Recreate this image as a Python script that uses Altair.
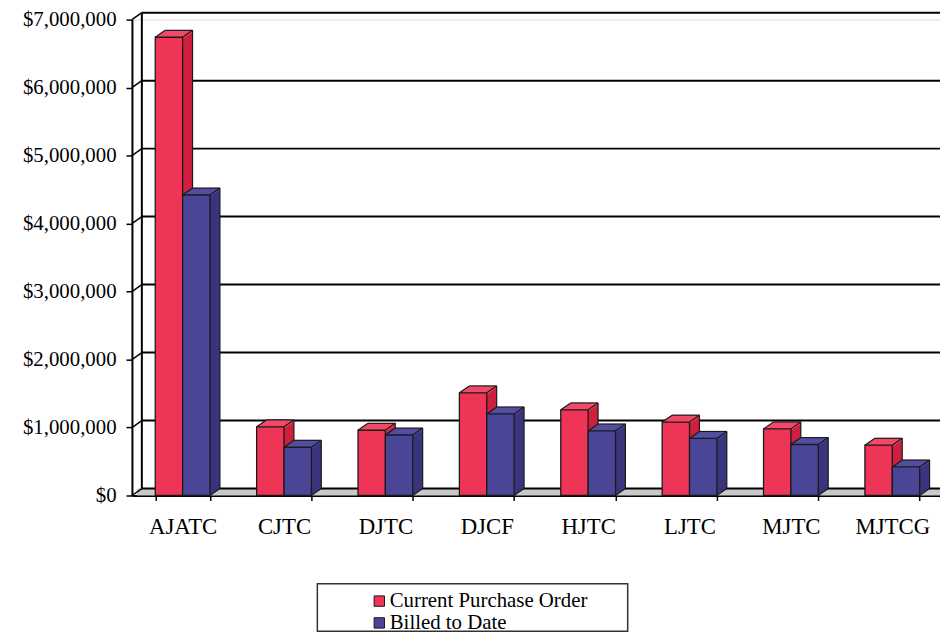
import altair as alt
import pandas as pd

# ---- data ----
categories = ["AJATC", "CJTC", "DJTC", "DJCF", "HJTC", "LJTC", "MJTC", "MJTCG"]
purchase_order = [6740000, 1010000, 960000, 1510000, 1260000, 1080000, 980000, 740000]
billed_to_date = [4420000, 710000, 890000, 1200000, 950000, 840000, 750000, 420000]
series_names = ["Current Purchase Order", "Billed to Date"]
y_ticks = [0, 1000000, 2000000, 3000000, 4000000, 5000000, 6000000, 7000000]

rows = []
for i, (c, p, b) in enumerate(zip(categories, purchase_order, billed_to_date)):
    rows.append({"cat": c, "idx": i, "sidx": 0, "series": series_names[0], "value": p})
    rows.append({"cat": c, "idx": i, "sidx": 1, "series": series_names[1], "value": b})
df = pd.DataFrame(rows)
grid_df = pd.DataFrame({"v": y_ticks})
one = pd.DataFrame({"a": [0]})

# ---- style ----
W, H = 815, 480
X_RANGE = 818
DX, DY = 10, 7
YMAX = 7000000
PX = YMAX / H
FONT = "Liberation Serif"
PAD_OUT, BAR_W = 0.23, 0.27
front_colors = ["#EE3558", "#4B4598"]
top_colors = ["#F24A69", "#544EA2"]
side_colors = ["#CF1F3E", "#39347D"]
EDGE = "#1a1a1a"

xband = alt.X("cat:N", sort=categories,
              scale=alt.Scale(domain=categories, range=[0, X_RANGE], paddingInner=0.46, paddingOuter=0.23),
              axis=alt.Axis(title=None, labelFont=FONT, labelFontSize=23, labelColor="black", labelAngle=0,
                            domainColor="black", domainWidth=2, tickColor="black", tickSize=5,
                            tickWidth=1.5, tickBand="extent", labelPadding=15, grid=False))
xq_scale = alt.Scale(domain=[0, len(categories)], range=[0, X_RANGE], nice=False, zero=False)
yscale = alt.Scale(domain=[0, YMAX], nice=False, zero=True)
yaxis = alt.Axis(title=None, values=y_ticks, format="$,.0f", labelFont=FONT, labelFontSize=21,
                 labelColor="black", domainColor="black", domainWidth=2, tickColor="black",
                 tickSize=6, tickWidth=1.5, labelPadding=10, grid=False)


def yenc(field):
    return alt.Y(field, scale=yscale, axis=yaxis)


def xq(field):
    return alt.X(field, scale=xq_scale, axis=None)


def bars(s):
    return alt.Chart(df).transform_filter(alt.datum.sidx == s).transform_calculate(
        x0=f"datum.idx + {PAD_OUT} + datum.sidx * {BAR_W}",
        x1=f"datum.idx + {PAD_OUT} + (datum.sidx + 1) * {BAR_W}",
        top2=f"datum.value - {2.2 * PX}",
    )


layers = []

# invisible layer carrying the category axis
layers.append(alt.Chart(df).mark_bar(opacity=0).encode(x=xband, y=yenc("value:Q")))

# floor
layers.append(alt.Chart(one).mark_rect(color="#c8c8c8").encode(
    x=alt.value(DX / 2), x2=alt.value(X_RANGE + 20), y=alt.value(H - DY), y2=alt.value(H)))

# back-wall gridlines
layers.append(alt.Chart(grid_df).mark_rule(color="black", strokeWidth=2, yOffset=-DY).encode(
    y=yenc("v:Q"), x=alt.value(DX), x2=alt.value(X_RANGE + 20)))
# side-wall diagonals
layers.append(alt.Chart(grid_df).transform_calculate(v2=f"datum.v + {DY * PX}").mark_rule(
    color="black", strokeWidth=1.5).encode(
    x=alt.value(0), x2=alt.value(DX), y=yenc("v:Q"), y2="v2:Q"))
# side-wall back edge
layers.append(alt.Chart(grid_df).transform_aggregate(vmax="max(v)", vmin="min(v)").mark_rule(
    color="black", strokeWidth=2, yOffset=-DY, y2Offset=-DY).encode(
    x=alt.value(DX), y=yenc("vmax:Q"), y2="vmin:Q"))

for s in range(len(series_names)):
    # side faces, swept along the depth direction
    for k in range(1, DX + 1):
        yo = -DY * k / DX
        layers.append(bars(s).mark_rect(color=side_colors[s], xOffset=k, x2Offset=k,
                                        yOffset=yo, y2Offset=yo).encode(
            x=xq("x0:Q"), x2="x1:Q", y=yenc("value:Q"), y2=alt.datum(0)))
    # top faces
    for k in range(0, DX + 1):
        yo = -DY * k / DX
        layers.append(bars(s).mark_rect(color=top_colors[s], xOffset=k, x2Offset=k,
                                        yOffset=yo, y2Offset=yo).encode(
            x=xq("x0:Q"), x2="x1:Q", y=yenc("value:Q"), y2="top2:Q"))
    # edges of the 3D faces
    layers.append(bars(s).mark_rule(color=EDGE, strokeWidth=1.2, xOffset=DX, x2Offset=DX,
                                    yOffset=-DY).encode(
        x=xq("x0:Q"), x2="x1:Q", y=yenc("value:Q")))
    layers.append(bars(s).mark_rule(color=EDGE, strokeWidth=1.2, x2Offset=DX, y2Offset=-DY).encode(
        x=xq("x0:Q"), x2="x0:Q", y=yenc("value:Q"), y2="value:Q"))
    layers.append(bars(s).mark_rule(color=EDGE, strokeWidth=1.2, x2Offset=DX, y2Offset=-DY).encode(
        x=xq("x1:Q"), x2="x1:Q", y=yenc("value:Q"), y2="value:Q"))
    layers.append(bars(s).mark_rule(color=EDGE, strokeWidth=1.2, xOffset=DX, yOffset=-DY,
                                    y2Offset=-DY).encode(
        x=xq("x1:Q"), y=yenc("value:Q"), y2=alt.datum(0)))
    layers.append(bars(s).mark_rule(color=EDGE, strokeWidth=1.2, x2Offset=DX, y2Offset=-DY).encode(
        x=xq("x1:Q"), x2="x1:Q", y=alt.datum(0), y2=alt.datum(0)))

# front faces
layers.append(bars(0).mark_rect(stroke=EDGE, strokeWidth=1.3).encode(
    x=xq("x0:Q"), x2="x1:Q", y=yenc("value:Q"), y2=alt.datum(0),
    color=alt.Color("series:N", sort=series_names,
                    scale=alt.Scale(domain=series_names, range=front_colors),
                    legend=alt.Legend(title=None, orient="none", legendX=239, legendY=576,
                                      labelFont=FONT, labelFontSize=21, labelColor="black",
                                      labelLimit=500, symbolType="square", symbolSize=110,
                                      symbolStrokeColor="black", symbolStrokeWidth=1,
                                      rowPadding=0, labelOffset=0, padding=0))))
layers.append(bars(1).mark_rect(stroke=EDGE, strokeWidth=1.3).encode(
    x=xq("x0:Q"), x2="x1:Q", y=yenc("value:Q"), y2=alt.datum(0),
    color=alt.Color("series:N", sort=series_names,
                    scale=alt.Scale(domain=series_names, range=front_colors))))

# legend frame
layers.append(alt.Chart(one).mark_rect(fill="white", stroke="#333333", strokeWidth=1.5).encode(
    x=alt.value(187), x2=alt.value(500), y=alt.value(569), y2=alt.value(617)))

chart = alt.layer(*layers).resolve_scale(x="independent").properties(
    width=W, height=H,
    autosize=alt.AutoSizeParams(type="none"),
    padding={"left": 125, "top": 9, "right": 0, "bottom": 138},
).configure_view(stroke=None).configure(background="white")

chart.save("out.html", embed_options={"renderer": "svg", "actions": False})
